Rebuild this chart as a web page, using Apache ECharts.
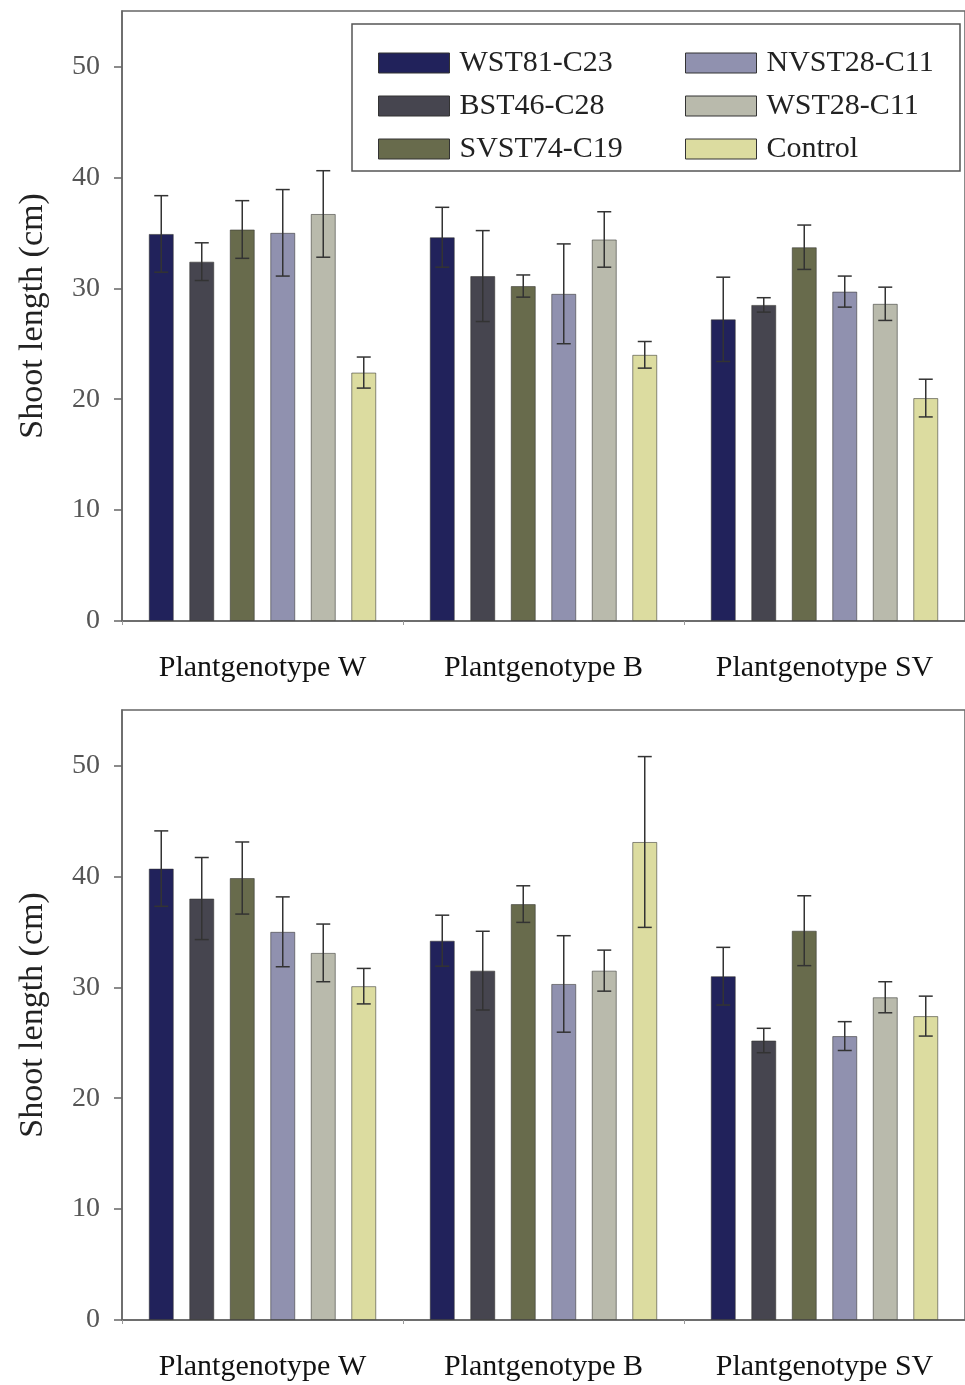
<!DOCTYPE html>
<html>
<head>
<meta charset="utf-8">
<script src="https://cdn.jsdelivr.net/npm/echarts@6/dist/echarts.min.js"></script>
<style>
html,body{margin:0;padding:0;background:#fff;}
#chart{width:965px;height:1385px;}
</style>
</head>
<body>
<div id="chart"></div>
<script>
// ---- data ----
const categories = ['Plantgenotype W', 'Plantgenotype B', 'Plantgenotype SV'];
const seriesNames = ['WST81-C23', 'BST46-C28', 'SVST74-C19', 'NVST28-C11', 'WST28-C11', 'Control'];
const seriesColors = ['#21225b', '#46454f', '#686b4c', '#9091af', '#b9baac', '#dcdca0'];
const yTicks = [0, 10, 20, 30, 40, 50];

// top panel: mean and error (per series, over categories W, B, SV)
const topMeans = [
  [34.9, 34.6, 27.2],
  [32.4, 31.1, 28.5],
  [35.3, 30.2, 33.7],
  [35.0, 29.5, 29.7],
  [36.7, 34.4, 28.6],
  [22.4, 24.0, 20.1]
];
const topErrors = [
  [3.45, 2.7, 3.8],
  [1.7, 4.1, 0.65],
  [2.6, 1.0, 2.0],
  [3.9, 4.5, 1.4],
  [3.9, 2.5, 1.5],
  [1.4, 1.2, 1.7]
];
// bottom panel
const bottomMeans = [
  [40.7, 34.2, 31.0],
  [38.0, 31.5, 25.2],
  [39.85, 37.5, 35.1],
  [35.0, 30.3, 25.6],
  [33.1, 31.5, 29.1],
  [30.1, 43.1, 27.4]
];
const bottomErrors = [
  [3.4, 2.3, 2.6],
  [3.7, 3.55, 1.1],
  [3.25, 1.65, 3.15],
  [3.15, 4.35, 1.3],
  [2.6, 1.85, 1.4],
  [1.6, 7.7, 1.8]
];

// ---- layout / style ----
const BAR_W = 25;
const BAR_GAP = 0.62;
const SPACING = BAR_W * (1 + BAR_GAP);
const serif = '"Liberation Serif", "DejaVu Serif", serif';

const chart = echarts.init(document.getElementById('chart'), null, {renderer: 'canvas'});

const grids = [
  {left: 122, right: -3, top: 11, height: 610},
  {left: 122, right: -3, top: 710, height: 610}
];

function makeXAxis(gi) {
  return {
    type: 'category', gridIndex: gi, data: categories,
    axisLine: {show: true, lineStyle: {color: '#666', width: 1.5}},
    axisTick: {show: true, length: 4, lineStyle: {color: '#999'}},
    axisLabel: {color: '#111', fontFamily: serif, fontSize: 30, margin: 32, interval: 0}
  };
}
function makeYAxis(gi) {
  return {
    type: 'value', gridIndex: gi, min: 0, max: 55, interval: 10,
    name: 'Shoot length (cm)', nameLocation: 'middle', nameGap: 72, nameRotate: 90,
    nameTextStyle: {color: '#222', fontFamily: serif, fontSize: 34},
    axisLine: {show: true, lineStyle: {color: '#666', width: 1.5}},
    axisTick: {show: true, inside: false, length: 8, customValues: yTicks, lineStyle: {color: '#666', width: 1.5}},
    axisLabel: {color: '#555', fontFamily: serif, fontSize: 28, margin: 22, customValues: yTicks},
    splitLine: {show: false}
  };
}

const series = [];
function addPanel(gi, means, errors) {
  means.forEach((vals, i) => {
    series.push({
      name: seriesNames[i], type: 'bar', xAxisIndex: gi, yAxisIndex: gi,
      data: vals, barWidth: BAR_W, barGap: (BAR_GAP * 100) + '%',
      itemStyle: {color: seriesColors[i], borderColor: 'rgba(50,50,45,0.55)', borderWidth: 1},
      emphasis: {disabled: true}
    });
  });
  means.forEach((vals, i) => {
    const d = vals.map((v, c) => [c, v, errors[i][c]]);
    series.push({
      type: 'custom', xAxisIndex: gi, yAxisIndex: gi, z: 5,
      data: d,
      encode: {x: 0, y: 1},
      renderItem: function (params, api) {
        const c = api.value(0), m = api.value(1), e = api.value(2);
        const cx = api.coord([c, 0])[0] + (i - 2.5) * SPACING;
        const yT = api.coord([c, m + e])[1];
        const yB = api.coord([c, m - e])[1];
        const hw = 7;
        const st = {stroke: '#333', lineWidth: 1.5};
        return {
          type: 'group',
          children: [
            {type: 'line', shape: {x1: cx, y1: yT, x2: cx, y2: yB}, style: st},
            {type: 'line', shape: {x1: cx - hw, y1: yT, x2: cx + hw, y2: yT}, style: st},
            {type: 'line', shape: {x1: cx - hw, y1: yB, x2: cx + hw, y2: yB}, style: st}
          ]
        };
      }
    });
  });
}
addPanel(0, topMeans, topErrors);
addPanel(1, bottomMeans, bottomErrors);

const legendCommon = {
  orient: 'vertical', itemWidth: 71, itemHeight: 20, itemGap: 13,
  icon: 'rect', selectedMode: false,
  textStyle: {color: '#222', fontFamily: serif, fontSize: 30, lineHeight: 22, padding: [0, 0, 0, 5]},
  itemStyle: {borderColor: '#333', borderWidth: 1}
};

chart.setOption({
  backgroundColor: '#fff',
  animation: false,
  grid: grids.map(g => Object.assign({show: true, borderColor: '#666', borderWidth: 1.5, backgroundColor: 'transparent'}, g)),
  xAxis: [makeXAxis(0), makeXAxis(1)],
  yAxis: [makeYAxis(0), makeYAxis(1)],
  legend: [
    Object.assign({}, legendCommon, {left: 373, top: 43, data: seriesNames.slice(0, 3)}),
    Object.assign({}, legendCommon, {left: 680, top: 43, data: seriesNames.slice(3)})
  ],
  graphic: [{
    type: 'rect', z: 3, shape: {x: 352, y: 24, width: 608, height: 147},
    style: {fill: '#fff', stroke: '#555', lineWidth: 1.5}
  }],
  series: series
});
</script>
</body>
</html>
